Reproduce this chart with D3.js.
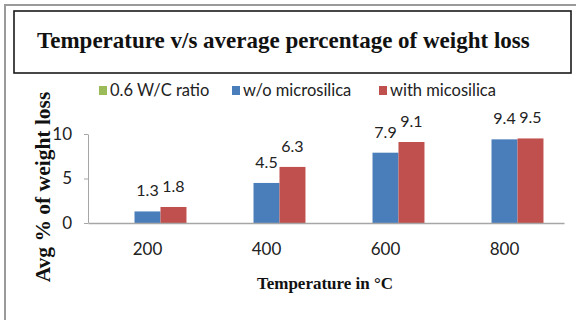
<!DOCTYPE html>
<html>
<head>
<meta charset="utf-8">
<script src="https://cdn.jsdelivr.net/npm/d3@7"></script>
<style>
  html, body { margin: 0; padding: 0; background: #fff; }
  svg { display: block; }
</style>
</head>
<body>
<svg id="chart" width="576" height="320"></svg>
<script>
// Temperatures (°C) on the category axis
const temperatures = ["200", "400", "600", "800"];
// Series names shown in the legend
const seriesNames = ["0.6 W/C ratio", "w/o microsilica", "with micosilica"];
const seriesColors = ["#9BBB59", "#4A7EBB", "#C0504D"];
// Average % of weight loss per temperature for each series
const wcRatio = [null, null, null, null];
const withoutMicrosilica = [1.3, 4.5, 7.9, 9.4];
const withMicrosilica = [1.8, 6.3, 9.1, 9.5];
const yTicks = [0, 5, 10];

const seriesValues = [wcRatio, withoutMicrosilica, withMicrosilica];

const svg = d3.select("#chart");
const labelFont = "Lato, 'Open Sans', sans-serif";
const serif = "'Liberation Serif', 'Times New Roman', serif";

// Outer frame (top and left edges)
svg.append("line").attr("x1", 5).attr("x2", 576).attr("y1", 5).attr("y2", 5)
  .attr("stroke", "#9a9a9a").attr("stroke-width", 2);
svg.append("line").attr("x1", 5).attr("x2", 5).attr("y1", 4).attr("y2", 320)
  .attr("stroke", "#9a9a9a").attr("stroke-width", 2);

// Title box
svg.append("rect").attr("x", 14).attr("y", 11).attr("width", 557).attr("height", 62)
  .attr("fill", "#fff").attr("stroke", "#1a1a1a").attr("stroke-width", 1.6);
svg.append("text")
  .attr("x", 37).attr("y", 48)
  .attr("font-family", serif).attr("font-weight", "bold").attr("font-size", 23)
  .attr("fill", "#111")
  .text("Temperature v/s average percentage of weight loss");

// Scales
const x0 = d3.scaleBand().domain(temperatures).range([88, 564])
  .paddingInner(0.345).paddingOuter(0.1725);
const x1 = d3.scaleBand().domain(d3.range(seriesNames.length)).range([0, x0.bandwidth()]);
const y = d3.scaleLinear().domain([0, 10]).range([223, 134]);

// Y axis
const yAxis = svg.append("g").attr("transform", "translate(88,0)")
  .call(d3.axisLeft(y).tickValues(yTicks).tickSize(4).tickSizeOuter(0).tickPadding(12));
yAxis.select(".domain").attr("stroke", "#a6a6a6");
yAxis.selectAll(".tick line").attr("stroke", "#a6a6a6");
yAxis.selectAll(".tick text").attr("font-family", labelFont).attr("font-size", 17).attr("fill", "#222");

// Bars with value labels
seriesValues.forEach((vals, s) => {
  const pts = temperatures.map((t, i) => ({ t, v: vals[i] })).filter(d => d.v != null);
  svg.append("g").selectAll("rect")
    .data(pts)
    .join("rect")
    .attr("x", d => x0(d.t) + x1(s))
    .attr("y", d => y(d.v))
    .attr("width", x1.bandwidth())
    .attr("height", d => y(0) - y(d.v))
    .attr("fill", seriesColors[s]);

  svg.append("g").selectAll("text")
    .data(pts)
    .join("text")
    .attr("x", d => x0(d.t) + x1(s) + x1.bandwidth() / 2)
    .attr("y", d => y(d.v) - 15)
    .attr("text-anchor", "middle")
    .attr("font-family", labelFont).attr("font-size", 16).attr("fill", "#222")
    .text(d => d.v.toFixed(1));
});

// X axis
const xAxis = svg.append("g").attr("transform", `translate(0,${y(0)})`)
  .call(d3.axisBottom(x0).tickSize(0).tickSizeOuter(0).tickPadding(20));
xAxis.select(".domain").attr("stroke", "#a6a6a6").attr("stroke-width", 1.5);
xAxis.selectAll(".tick text").attr("font-family", labelFont).attr("font-size", 17).attr("fill", "#222");

// Axis titles
svg.append("text")
  .attr("transform", "translate(50,187) rotate(-90)")
  .attr("text-anchor", "middle")
  .attr("font-family", serif).attr("font-weight", "bold").attr("font-size", 21.5).attr("fill", "#111")
  .text("Avg % of weight loss");
svg.append("text")
  .attr("x", 325).attr("y", 289)
  .attr("text-anchor", "middle")
  .attr("font-family", serif).attr("font-weight", "bold").attr("font-size", 17).attr("fill", "#111")
  .text("Temperature in °C");

// Legend
const legendX = [99, 232, 379];
const legend = svg.append("g");
seriesNames.forEach((name, i) => {
  legend.append("rect").attr("x", legendX[i]).attr("y", 86).attr("width", 8).attr("height", 9)
    .attr("fill", seriesColors[i]);
  legend.append("text").attr("x", legendX[i] + 11).attr("y", 96)
    .attr("font-family", labelFont).attr("font-size", 16.5).attr("fill", "#222")
    .text(name);
});
</script>
</body>
</html>
